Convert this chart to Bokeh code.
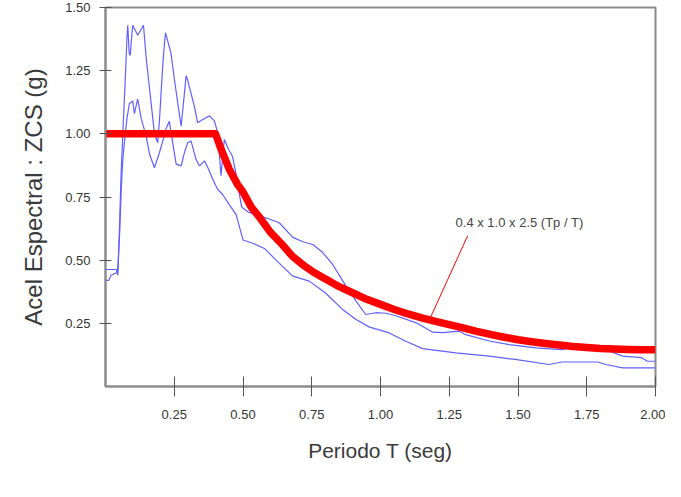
from bokeh.plotting import figure
from bokeh.models import Range1d, FixedTicker, NumeralTickFormatter, Label, Title
from bokeh.embed import file_html
from bokeh.resources import INLINE

# ---- data ----
upper_T = [0.000, 0.040, 0.045, 0.050, 0.057, 0.065, 0.072, 0.078, 0.081, 0.086, 0.090, 0.094, 0.099,
           0.108, 0.117, 0.128, 0.138, 0.148, 0.158, 0.166, 0.178, 0.190, 0.196, 0.202, 0.210, 0.218,
           0.228, 0.238, 0.250, 0.263, 0.275, 0.287, 0.293, 0.297, 0.311, 0.323, 0.335, 0.354, 0.378,
           0.396, 0.408, 0.420, 0.432, 0.447, 0.462, 0.475, 0.487, 0.495, 0.520, 0.547, 0.590, 0.632,
           0.681, 0.720, 0.754, 0.790, 0.826, 0.874, 0.910, 0.946, 0.983, 1.020, 1.056, 1.130, 1.190,
           1.226, 1.286, 1.310, 1.395, 1.468, 1.565, 1.660, 1.710, 1.795, 1.820, 1.880, 1.950, 1.970, 2.000]
upper_S = [0.463, 0.463, 0.440, 0.600, 0.850, 1.050, 1.220, 1.380, 1.430, 1.320, 1.310, 1.370, 1.430,
           1.410, 1.390, 1.410, 1.430, 1.300, 1.200, 1.120, 1.000, 0.965, 1.050, 1.160, 1.300, 1.400,
           1.360, 1.320, 1.220, 1.120, 1.030, 1.160, 1.230, 1.220, 1.160, 1.110, 1.044, 1.057, 1.071,
           1.051, 1.005, 0.834, 0.978, 0.940, 0.910, 0.840, 0.760, 0.710, 0.690, 0.680, 0.665, 0.648,
           0.590, 0.572, 0.562, 0.530, 0.483, 0.398, 0.340, 0.285, 0.292, 0.290, 0.280, 0.252, 0.215,
           0.213, 0.219, 0.205, 0.180, 0.166, 0.153, 0.146, 0.160, 0.160, 0.146, 0.120, 0.114, 0.100, 0.100]

lower_T = [0.000, 0.012, 0.020, 0.040, 0.045, 0.052, 0.058, 0.063, 0.070, 0.078, 0.087, 0.099, 0.105,
           0.117, 0.130, 0.148, 0.160, 0.178, 0.196, 0.208, 0.220, 0.232, 0.245, 0.257, 0.275, 0.288,
           0.299, 0.311, 0.329, 0.342, 0.360, 0.375, 0.390, 0.408, 0.426, 0.450, 0.475, 0.500, 0.540,
           0.580, 0.620, 0.681, 0.741, 0.800, 0.862, 0.911, 0.960, 1.030, 1.090, 1.153, 1.274, 1.395,
           1.490, 1.613, 1.660, 1.790, 1.820, 1.880, 2.000]
lower_S = [0.420, 0.420, 0.440, 0.450, 0.470, 0.620, 0.800, 0.900, 0.980, 1.060, 1.120, 1.130, 1.080,
           1.137, 1.060, 0.990, 0.920, 0.866, 0.925, 0.970, 1.020, 1.050, 0.960, 0.880, 0.873, 0.930,
           0.965, 0.972, 0.899, 0.873, 0.893, 0.860, 0.820, 0.780, 0.760, 0.720, 0.680, 0.580, 0.565,
           0.545, 0.500, 0.437, 0.417, 0.370, 0.305, 0.265, 0.235, 0.213, 0.180, 0.150, 0.133, 0.120,
           0.107, 0.087, 0.097, 0.097, 0.087, 0.074, 0.074]

design_T = [0.00, 0.40, 0.42, 0.45, 0.48, 0.50, 0.53, 0.56, 0.60, 0.64, 0.68, 0.72, 0.76, 0.80, 0.85,
            0.90, 0.95, 1.00, 1.05, 1.10, 1.15, 1.20, 1.25, 1.30, 1.35, 1.40, 1.45, 1.50, 1.55, 1.60,
            1.65, 1.70, 1.75, 1.80, 1.85, 1.90, 1.95, 2.00]
design_S = [1.000, 1.000, 0.940, 0.860, 0.800, 0.770, 0.710, 0.670, 0.610, 0.565, 0.515, 0.480, 0.450,
            0.425, 0.395, 0.370, 0.345, 0.325, 0.305, 0.287, 0.272, 0.258, 0.245, 0.232, 0.218, 0.206,
            0.195, 0.185, 0.177, 0.170, 0.164, 0.158, 0.154, 0.150, 0.148, 0.146, 0.145, 0.145]

x_ticks = [0.25, 0.50, 0.75, 1.00, 1.25, 1.50, 1.75, 2.00]
y_ticks = [0.25, 0.50, 0.75, 1.00, 1.25, 1.50]

annot_text = "0.4 x 1.0 x 2.5 (Tp / T)"
x_title = "Periodo T (seg)"
y_title = "Acel Espectral : ZCS (g)"

# ---- figure ----
p = figure(width=665, height=481, output_backend="svg", toolbar_location=None,
           x_range=Range1d(0, 2.0), y_range=Range1d(0, 1.5),
           min_border_left=105, min_border_right=10, min_border_top=7, min_border_bottom=95)
p.background_fill_color = "white"
p.border_fill_color = "white"
p.outline_line_color = "#8c8c8c"
p.outline_line_width = 2
p.xgrid.visible = False
p.ygrid.visible = False

FONT = "Liberation Sans"
for ax in (p.xaxis[0], p.yaxis[0]):
    ax.axis_line_color = "#8c8c8c"
    ax.axis_line_width = 2
    ax.major_tick_line_color = "#555555"
    ax.major_tick_line_width = 1
    ax.minor_tick_line_color = None
    ax.major_label_text_font = FONT
    ax.major_label_text_font_size = "13px"
    ax.major_label_text_color = "#333333"
    ax.formatter = NumeralTickFormatter(format="0.00")

p.xaxis.ticker = FixedTicker(ticks=x_ticks)
p.yaxis.ticker = FixedTicker(ticks=y_ticks)
p.xaxis.major_tick_in = 10
p.xaxis.major_tick_out = 10
p.xaxis.major_label_standoff = 13
p.yaxis.major_tick_in = 6
p.yaxis.major_tick_out = 6
p.yaxis.major_label_standoff = 9

blue = "#6060ff"
p.line(upper_T, upper_S, line_color=blue, line_width=1.2)
p.line(lower_T, lower_S, line_color=blue, line_width=1.2)
p.line(design_T, design_S, line_color="#ff0000", line_width=7.5, line_join="round")

# leader line of the annotation
p.segment(x0=[1.317], y0=[0.597], x1=[1.178], y1=[0.264], line_color="#ff0000", line_width=1)
p.add_layout(Label(x=1.273, y=0.648, text=annot_text, text_font=FONT,
                   text_font_size="13px", text_color="#444444",
                   text_align="left", text_baseline="middle"))

# axis titles
p.add_layout(Title(text=x_title, align="center", offset=-18, standoff=31,
                   text_font=FONT, text_font_size="21px", text_font_style="normal",
                   text_color="#3a3a3a"), "below")
p.add_layout(Title(text=y_title, align="center", offset=15, standoff=31,
                   text_font=FONT, text_font_size="24px", text_font_style="normal",
                   text_color="#3a3a3a"), "left")

open("out.html", "w").write(file_html(p, INLINE))
